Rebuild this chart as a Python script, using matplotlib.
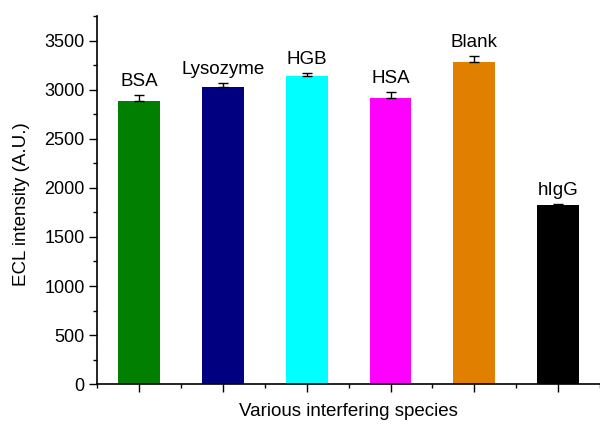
import matplotlib
matplotlib.use("Agg")
import matplotlib.pyplot as plt
from matplotlib.ticker import MultipleLocator

plt.rcParams['font.family'] = ['Liberation Sans', 'DejaVu Sans']

species = ["BSA", "Lysozyme", "HGB", "HSA", "Blank", "hIgG"]
intensity = [2890, 3030, 3135, 2920, 3285, 1825]
errors = [60, 40, 35, 55, 55, 10]
colors = ["#007F00", "#000080", "#00FFFF", "#FF00FF", "#E07F00", "#000000"]

fig = plt.figure(figsize=(6, 4.24), dpi=100)
ax = fig.add_axes([0.162, 0.094, 0.838, 0.868])

pos = list(range(1, len(species) + 1))
ax.bar(pos, intensity, width=0.5, color=colors, zorder=2)
ax.errorbar(pos, intensity, yerr=[[0] * len(errors), errors], fmt='none',
            ecolor='black', elinewidth=1, capsize=3.5, capthick=1, zorder=3)

for x, v, e, name in zip(pos, intensity, errors, species):
    ax.annotate(name, xy=(x, v + e), xytext=(0, 6.5), textcoords='offset points',
                ha='center', va='baseline', fontsize=13.5)

ax.set_xlim(0.5, 6.5)
ax.set_ylim(0, 3750)
ax.set_xticks(pos)
ax.set_xticklabels([])
ax.xaxis.set_minor_locator(MultipleLocator(0.5))
ax.yaxis.set_major_locator(MultipleLocator(500))
ax.yaxis.set_minor_locator(MultipleLocator(250))

for side in ('top', 'right'):
    ax.spines[side].set_visible(False)
for side in ('left', 'bottom'):
    ax.spines[side].set_linewidth(1.2)

ax.tick_params(which='major', direction='out', length=5.5, width=1, labelsize=13)
ax.tick_params(which='minor', direction='out', length=3, width=1)

ax.set_xlabel("Various interfering species", fontsize=13.5)
ax.set_ylabel("ECL intensity (A.U.)", fontsize=13.5)
ax.xaxis.set_label_coords(0.5, -0.051)
ax.yaxis.set_label_coords(-0.133, 0.49)

fig.savefig("out.png", dpi=100)
